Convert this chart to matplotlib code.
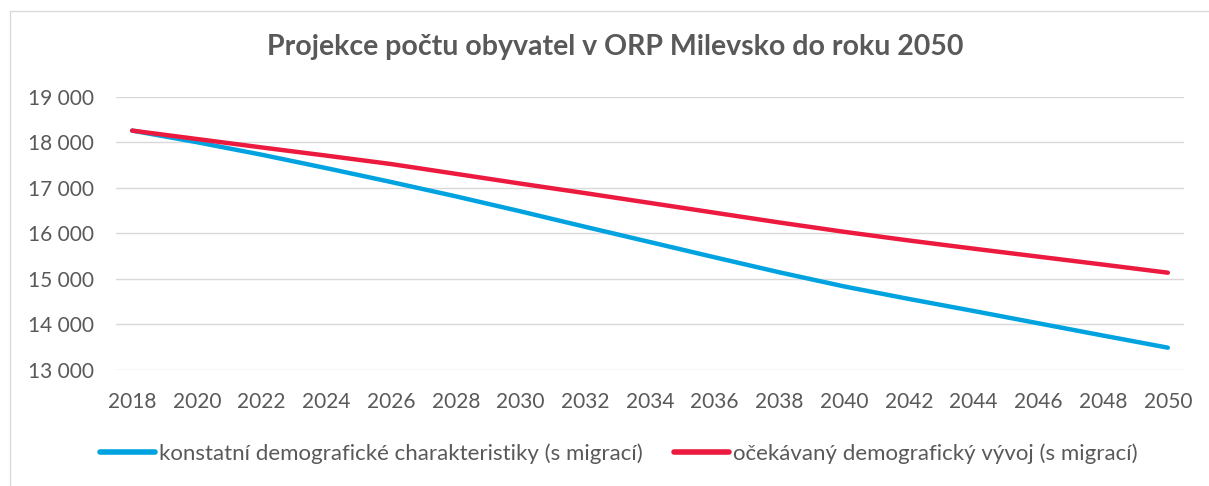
import matplotlib
matplotlib.use("Agg")
import matplotlib.pyplot as plt
from matplotlib.patches import Rectangle
from matplotlib.ticker import FuncFormatter

# -----------------------------------------------------------------------------
# Data
# -----------------------------------------------------------------------------
years = [2018, 2020, 2022, 2024, 2026, 2028, 2030, 2032, 2034,
         2036, 2038, 2040, 2042, 2044, 2046, 2048, 2050]
konstantni = [18255, 18000, 17725, 17430, 17125, 16810, 16480, 16140, 15805,
              15470, 15140, 14830, 14555, 14290, 14020, 13750, 13484]
ocekavany = [18255, 18070, 17885, 17705, 17520, 17305, 17090, 16880, 16665,
             16450, 16235, 16030, 15840, 15660, 15485, 15310, 15132]

label_konst = "konstatní demografické charakteristiky (s migrací)"
label_ocek = "očekávaný demografický vývoj (s migrací)"
title = "Projekce počtu obyvatel v ORP Milevsko do roku 2050"

BLUE = "#00A3E0"
RED = "#EC1A3F"
TEXT = "#595959"
GRID = "#D9D9D9"

plt.rcParams['font.family'] = ['Lato', 'DejaVu Sans']

# -----------------------------------------------------------------------------
# Figure
# -----------------------------------------------------------------------------
W, H = 1209, 486
fig = plt.figure(figsize=(W / 100, H / 100), dpi=100)
fig.patch.set_facecolor("white")

# chart-area border
fig.patches.append(Rectangle((10 / W, -0.05), 1.1, 1 - 11 / H + 0.05,
                             transform=fig.transFigure, fill=False,
                             edgecolor=GRID, linewidth=0.95))

ax = fig.add_axes([116 / W, 1 - 369.7 / H, (1184 - 116) / W, (369.7 - 96.7) / H])

ax.plot(years, konstantni, color=BLUE, linewidth=3.2, solid_capstyle="round",
        solid_joinstyle="round", label=label_konst, zorder=3)
ax.plot(years, ocekavany, color=RED, linewidth=3.2, solid_capstyle="round",
        solid_joinstyle="round", label=label_ocek, zorder=4)

ax.set_xlim(2017.5, 2050.5)
ax.set_ylim(13000, 19000)
ax.set_xticks(years)
ax.set_yticks(range(13000, 19001, 1000))
ax.yaxis.set_major_formatter(FuncFormatter(lambda v, p: f"{int(v):,}".replace(",", " ")))

for s in ax.spines.values():
    s.set_visible(False)
ax.grid(axis="y", color=GRID, linewidth=1.0)
ax.set_axisbelow(True)
ax.tick_params(axis="both", length=0, labelcolor=TEXT, labelsize=15)
ax.tick_params(axis="y", pad=16)
ax.tick_params(axis="x", pad=16)

fig.text(0.5087, 1 - 47 / H, title, ha="center", va="center",
         fontsize=20.5, fontweight="bold", color=TEXT)

leg = fig.legend(loc="center", bbox_to_anchor=(618.5 / W, 1 - 453.7 / H),
                 ncol=2, frameon=False, fontsize=16, handlelength=2.5,
                 handletextpad=0.15, columnspacing=1.4, borderpad=0)
for t in leg.get_texts():
    t.set_color(TEXT)
for h in leg.get_lines():
    h.set_linewidth(4)

fig.savefig("out.png", dpi=100)
